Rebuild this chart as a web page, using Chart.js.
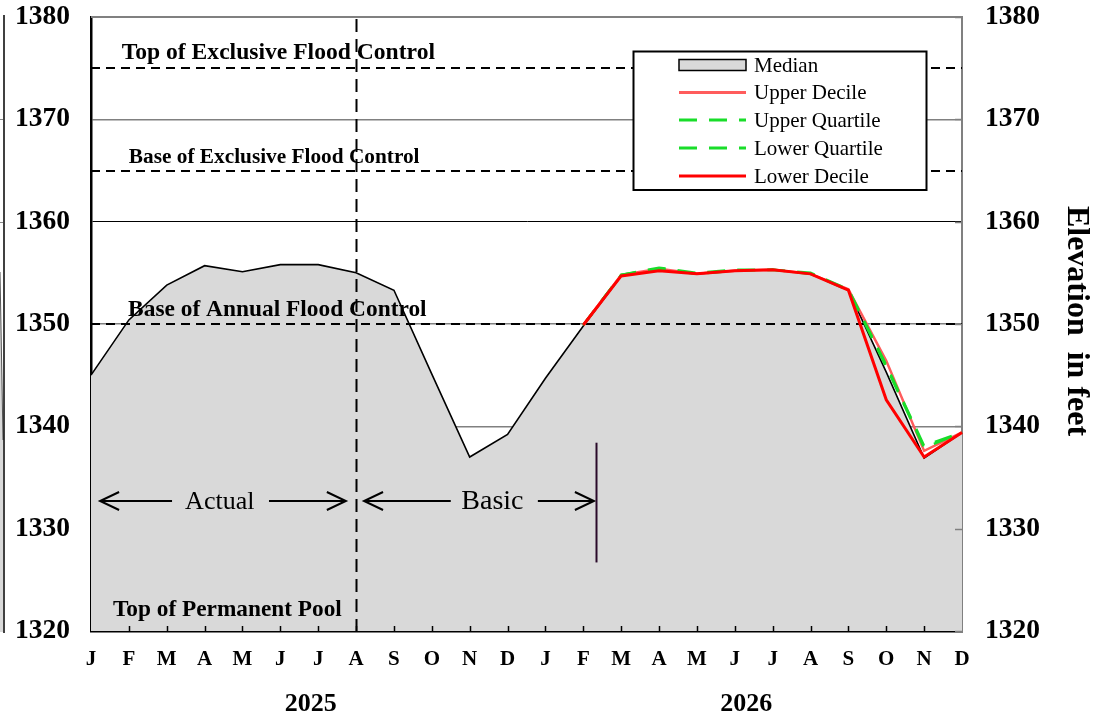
<!DOCTYPE html>
<html>
<head>
<meta charset="utf-8">
<script src="https://cdn.jsdelivr.net/npm/chart.js@4.4.1/dist/chart.umd.min.js"></script>
<style>
  html, body { margin: 0; padding: 0; background: #ffffff; }
  #wrap { width: 1099px; height: 720px; }
</style>
</head>
<body>
<div id="wrap"><canvas id="chart" width="1099" height="720"></canvas></div>
<script>
// Month initials, two years (2025, 2026)
const months = ['J','F','M','A','M','J','J','A','S','O','N','D',
                'J','F','M','A','M','J','J','A','S','O','N','D'];
const years = ['2025', '2026'];

// Reservoir elevation, feet
const medianElev = [1345.0, 1350.4, 1353.8, 1355.7, 1355.1, 1355.8, 1355.8, 1355.0, 1353.3, 1345.1, 1337.0, 1339.2,
                    1344.7, 1349.8, 1354.7, 1355.3, 1354.9, 1355.2, 1355.3, 1354.9, 1353.3, 1345.3, 1336.9, 1339.4];
const upperDecile = [null, null, null, null, null, null, null, null, null, null, null, null, null,
                     1349.9, 1354.8, 1355.4, 1354.9, 1355.2, 1355.3, 1354.9, 1353.4, 1346.4, 1337.6, 1339.4];
const upperQuartile = [null, null, null, null, null, null, null, null, null, null, null, null, null,
                       1349.9, 1354.8, 1355.5, 1355.0, 1355.3, 1355.3, 1355.0, 1353.4, 1346.0, 1338.1, 1339.4];
const lowerQuartile = [null, null, null, null, null, null, null, null, null, null, null, null, null,
                       1349.9, 1354.8, 1355.4, 1354.9, 1355.2, 1355.3, 1354.9, 1353.3, 1345.8, 1337.9, 1339.4];
const lowerDecile = [null, null, null, null, null, null, null, null, null, null, null, null, null,
                     1349.9, 1354.7, 1355.2, 1354.9, 1355.2, 1355.3, 1354.9, 1353.3, 1342.6, 1337.0, 1339.4];

// Operating zones
const zoneNames = ['Top of Exclusive Flood Control', 'Base of Exclusive Flood Control',
                   'Base of Annual Flood Control', 'Top of Permanent Pool'];
const zoneElev = [1375, 1365, 1350, 1320];

const yTicks = [1320, 1330, 1340, 1350, 1360, 1370, 1380];
const axisTitle = 'Elevation  in feet';
const periodNames = ['Actual', 'Basic'];

const SERIF = '"Liberation Serif", "Times New Roman", serif';
const GRAY_FILL = '#d9d9d9';

function dashedLine(ctx, x1, y1, x2, y2, dash, width, color) {
  ctx.save();
  ctx.beginPath();
  ctx.setLineDash(dash);
  ctx.lineWidth = width;
  ctx.strokeStyle = color;
  ctx.moveTo(x1, y1);
  ctx.lineTo(x2, y2);
  ctx.stroke();
  ctx.restore();
}

function arrowHead(ctx, x, y, dir) {
  ctx.beginPath();
  ctx.moveTo(x - dir * 19, y - 9);
  ctx.lineTo(x, y);
  ctx.lineTo(x - dir * 19, y + 9);
  ctx.stroke();
}

// Lines and labels drawn over the median area
const overlay = {
  id: 'overlay',
  beforeDraw(chart) {
    const ctx = chart.ctx;
    // edge of the neighbouring panel
    ctx.save();
    ctx.fillStyle = GRAY_FILL;
    ctx.beginPath();
    ctx.moveTo(0, 272); ctx.lineTo(3, 440); ctx.lineTo(3, 632); ctx.lineTo(0, 632);
    ctx.closePath(); ctx.fill();
    ctx.strokeStyle = '#555'; ctx.lineWidth = 1;
    ctx.beginPath(); ctx.moveTo(0, 272); ctx.lineTo(3, 440); ctx.stroke();
    ctx.strokeStyle = '#888';
    ctx.beginPath(); ctx.moveTo(0, 119.5); ctx.lineTo(3, 119.5); ctx.moveTo(0, 222.5); ctx.lineTo(3, 222.5); ctx.stroke();
    ctx.strokeStyle = '#000'; ctx.lineWidth = 1.5;
    ctx.beginPath(); ctx.moveTo(4, 15); ctx.lineTo(4, 633); ctx.stroke();
    ctx.restore();
  },
  afterDatasetDraw(chart, args) {
    if (args.index !== 0) return;
    const ctx = chart.ctx;
    const x = chart.scales.x, y = chart.scales.y;
    const a = chart.chartArea;
    // flood-control levels
    for (let i = 0; i < 3; i++) {
      const py = Math.round(y.getPixelForValue(zoneElev[i]));
      dashedLine(ctx, a.left, py, a.right, py, [9, 6], 2, '#000');
    }
    // start of the forecast period
    const vx = Math.round(x.getPixelForValue(7)) + 0.5;
    dashedLine(ctx, vx, a.top + 2, vx, a.bottom + 5, [13, 7], 2, '#000');
  },
  afterDatasetsDraw(chart) {
    const ctx = chart.ctx;
    const x = chart.scales.x, y = chart.scales.y;
    const a = chart.chartArea;
    ctx.save();
    // frame
    ctx.strokeStyle = '#808080'; ctx.lineWidth = 2;
    ctx.beginPath(); ctx.moveTo(a.left, a.top); ctx.lineTo(a.right, a.top); ctx.stroke();
    // month ticks
    ctx.strokeStyle = '#000'; ctx.lineWidth = 1.5;
    for (let i = 1; i < months.length - 1; i++) {
      const px = Math.round(x.getPixelForValue(i)) + 0.5;
      ctx.beginPath(); ctx.moveTo(px, a.bottom); ctx.lineTo(px, a.bottom - 5); ctx.stroke();
    }
    // right axis ticks
    ctx.strokeStyle = '#808080';
    for (const v of yTicks) {
      const py = Math.round(y.getPixelForValue(v)) + 0.5;
      ctx.beginPath(); ctx.moveTo(a.right, py); ctx.lineTo(a.right - 7, py); ctx.stroke();
    }

    // zone labels
    ctx.fillStyle = '#000';
    ctx.textBaseline = 'middle';
    ctx.textAlign = 'left';
    const zoneSize = [23.6, 21.3, 23.4, 23.3];
    const zoneX = [0.81, 1.0, 0.98, 0.58];
    const zoneDy = [-15, -13, -14, -21];
    for (let i = 0; i < zoneNames.length; i++) {
      ctx.font = 'bold ' + zoneSize[i] + 'px ' + SERIF;
      ctx.fillText(zoneNames[i], x.getPixelForValue(zoneX[i]), y.getPixelForValue(zoneElev[i]) + zoneDy[i]);
    }

    // period arrows
    ctx.strokeStyle = '#000'; ctx.lineWidth = 2;
    const ay = Math.round(y.getPixelForValue(1332.7));
    const spans = [[0.24, 2.14, 4.7, 6.73, 3.4, 26], [7.21, 9.5, 11.8, 13.28, 10.6, 28]];
    for (let k = 0; k < spans.length; k++) {
      const s = spans[k];
      const x0 = x.getPixelForValue(s[0]), x1 = x.getPixelForValue(s[1]);
      const x2 = x.getPixelForValue(s[2]), x3 = x.getPixelForValue(s[3]);
      ctx.beginPath(); ctx.moveTo(x0, ay); ctx.lineTo(x1, ay); ctx.moveTo(x2, ay); ctx.lineTo(x3, ay); ctx.stroke();
      arrowHead(ctx, x0, ay, -1);
      arrowHead(ctx, x3, ay, 1);
      ctx.font = s[5] + 'px ' + SERIF;
      ctx.textAlign = 'center';
      ctx.fillText(periodNames[k], x.getPixelForValue(s[4]), ay + 1);
    }
    // end of the basic period
    const bx = Math.round(x.getPixelForValue(13.33)) + 0.5;
    ctx.strokeStyle = '#2a0a2a'; ctx.lineWidth = 2;
    ctx.beginPath(); ctx.moveTo(bx, y.getPixelForValue(1338.4)); ctx.lineTo(bx, y.getPixelForValue(1326.7)); ctx.stroke();

    // year labels
    ctx.fillStyle = '#000';
    ctx.font = 'bold 26px ' + SERIF;
    ctx.textAlign = 'center';
    ctx.fillText(years[0], x.getPixelForValue(5.8), 704);
    ctx.fillText(years[1], x.getPixelForValue(17.3), 704);

    // axis title
    ctx.save();
    ctx.translate(1076, 321);
    ctx.rotate(Math.PI / 2);
    ctx.font = 'bold 32px ' + SERIF;
    ctx.textAlign = 'center';
    ctx.textBaseline = 'middle';
    ctx.fillText(axisTitle, 0, 0);
    ctx.restore();
    ctx.restore();
  },
  afterDraw(chart) {
    // legend
    const ctx = chart.ctx;
    const ds = chart.data.datasets;
    const bx = 633.5, by = 51.5, bw = 293, bh = 138.5;
    ctx.save();
    ctx.fillStyle = '#fff';
    ctx.fillRect(bx, by, bw, bh);
    ctx.strokeStyle = '#000'; ctx.lineWidth = 2;
    ctx.strokeRect(bx, by, bw, bh);
    const sx0 = 679, sx1 = 746, tx = 754;
    const rows = [65, 92.5, 120, 148, 176];
    ctx.font = '21px ' + SERIF;
    ctx.textBaseline = 'middle';
    ctx.textAlign = 'left';
    for (let i = 0; i < ds.length; i++) {
      const ry = rows[i];
      if (i === 0) {
        ctx.fillStyle = GRAY_FILL;
        ctx.fillRect(sx0, ry - 5.5, sx1 - sx0, 11);
        ctx.strokeStyle = '#000'; ctx.lineWidth = 1.5;
        ctx.strokeRect(sx0, ry - 5.5, sx1 - sx0, 11);
      } else {
        ctx.save();
        ctx.strokeStyle = ds[i].borderColor;
        ctx.lineWidth = 3;
        ctx.setLineDash(ds[i].borderDash || []);
        ctx.beginPath(); ctx.moveTo(sx0, ry); ctx.lineTo(sx1, ry); ctx.stroke();
        ctx.restore();
      }
      ctx.fillStyle = '#000';
      ctx.fillText(ds[i].label, tx, ry + 1);
    }
    ctx.restore();
  }
};

function noPad(s) { s.paddingTop = 0; s.paddingBottom = 0; s.paddingLeft = 0; s.paddingRight = 0; }

new Chart(document.getElementById('chart'), {
  type: 'line',
  data: {
    labels: months,
    datasets: [
      { label: 'Median', data: medianElev, borderColor: '#000', borderWidth: 1.6,
        backgroundColor: GRAY_FILL, fill: 'start', order: 5 },
      { label: 'Upper Decile', data: upperDecile, borderColor: '#ff5c5c', borderWidth: 2.5, order: 4 },
      { label: 'Upper Quartile', data: upperQuartile, borderColor: '#19dd2a', borderWidth: 2.5,
        borderDash: [18, 12], order: 3 },
      { label: 'Lower Quartile', data: lowerQuartile, borderColor: '#19dd2a', borderWidth: 2.5,
        borderDash: [18, 12], order: 2 },
      { label: 'Lower Decile', data: lowerDecile, borderColor: '#ff0000', borderWidth: 3, order: 1 }
    ]
  },
  options: {
    responsive: false,
    animation: false,
    devicePixelRatio: 1,
    layout: { padding: { top: 17, left: 0, right: 0, bottom: 0 } },
    elements: { point: { radius: 0 }, line: { tension: 0 } },
    plugins: { legend: { display: false }, tooltip: { enabled: false } },
    scales: {
      x: {
        type: 'category',
        offset: false,
        grid: { display: false },
        border: { display: true, color: '#000', width: 2.5 },
        ticks: { color: '#000', font: { family: SERIF, size: 21, weight: 'bold' }, padding: 8,
                 maxRotation: 0, autoSkip: false },
        afterFit(s) { s.height = 89; noPad(s); }
      },
      y: {
        position: 'left',
        min: 1320, max: 1380,
        afterBuildTicks(s) { s.ticks = yTicks.map(v => ({ value: v })); },
        grid: {
          drawTicks: false,
          color: (c) => c.tick && c.tick.value === 1360 ? '#000' : '#808080',
          lineWidth: (c) => c.tick && c.tick.value === 1360 ? 1 : 1.5
        },
        border: { display: true, color: '#000', width: 2.5 },
        ticks: { color: '#000', font: { family: SERIF, size: 27.5, weight: 'bold' }, padding: 21,
                 callback: (v) => String(v) },
        afterFit(s) { s.width = 91; noPad(s); }
      },
      y2: {
        position: 'right',
        min: 1320, max: 1380,
        afterBuildTicks(s) { s.ticks = yTicks.map(v => ({ value: v })); },
        grid: { display: false, drawTicks: false },
        border: { display: true, color: '#808080', width: 2 },
        ticks: { color: '#000', font: { family: SERIF, size: 27.5, weight: 'bold' }, padding: 23,
                 callback: (v) => String(v) },
        afterFit(s) { s.width = 137; noPad(s); }
      }
    }
  },
  plugins: [overlay]
});
</script>
</body>
</html>
